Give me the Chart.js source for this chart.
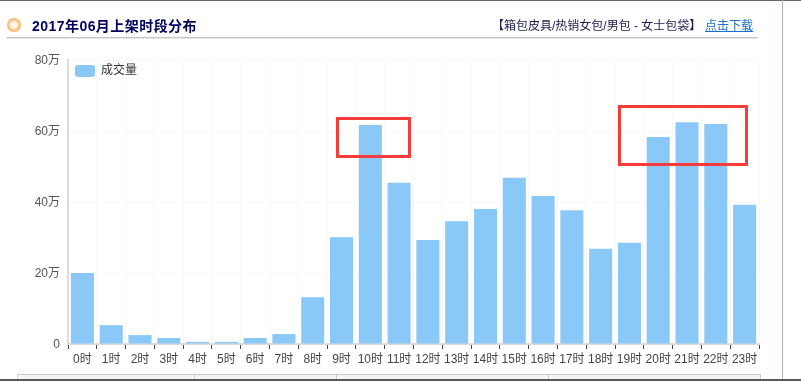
<!DOCTYPE html>
<html>
<head>
<meta charset="utf-8">
<title>2017年06月上架时段分布</title>
<script src="https://cdn.jsdelivr.net/npm/chart.js@4"></script>
<style>
    html, body { margin: 0; padding: 0; background: #fff; }
    body { width: 801px; height: 381px; overflow: hidden; position: relative; font-family: "Liberation Sans", "Noto Sans CJK SC", sans-serif; }
    #wrap { position: absolute; left: 0; top: 0; width: 801px; height: 381px; }
    .abs { position: absolute; white-space: nowrap; }
    .top-line { left: 0; top: 0; width: 801px; height: 1px; background: #666; }
    .bottom-line { left: 0; top: 379px; width: 801px; height: 2px; background: #5a5a5a; }
    .right-line { left: 782px; top: 0; width: 1px; height: 379px; background: #aab0c4; }
    .icon { left: 7px; top: 18px; width: 14px; height: 14px; border-radius: 50%; background: radial-gradient(circle, #fff 0, #fff3df 30%, #fbc680 55%, #f5a544 80%, #f8b86a 100%); }
    .title { left: 32px; top: 17px; font-size: 14px; font-weight: bold; line-height: 18px; letter-spacing: 0.45px; color: #00005e; }
    .rule { left: 7px; top: 37px; width: 751px; height: 2px; background: linear-gradient(#c4c4c4 50%, #e8e8e8 50%); }
    .cat { left: 492px; top: 18px; font-size: 12px; line-height: 17px; color: #1c1c50; }
    .link { left: 705px; top: 18px; font-size: 12px; line-height: 17px; color: #1a6fc4; text-decoration: underline; }
    .box { border: 3px solid #f63b3b; box-sizing: border-box; }
    .table-head { left: 17px; top: 374px; width: 744px; height: 5px; box-sizing: border-box; background: #f6f6f6; border: 1px solid #ccc; border-bottom: 0; }
    .table-cell { top: 374px; width: 1px; height: 5px; background: #ccc; }
</style>
</head>
<body>
<div id="wrap"><canvas id="timeChart" width="801" height="381"></canvas></div>
<div class="abs top-line"></div>
<div class="abs right-line"></div>
<div class="abs icon"></div>
<div class="abs title">2017年06月上架时段分布</div>
<div class="abs rule"></div>
<div class="abs cat">【箱包皮具/热销女包/男包&nbsp;- 女士包袋】</div>
<div class="abs link">点击下载</div>
<div class="abs box" style="left:336px;top:117px;width:75px;height:41px"></div>
<div class="abs box" style="left:618px;top:105px;width:130px;height:61px"></div>
<div class="abs table-head"></div>
<div class="abs table-cell" style="left:194px"></div>
<div class="abs table-cell" style="left:336px"></div>
<div class="abs table-cell" style="left:548px"></div>
<div class="abs bottom-line"></div>
<script>
// 数据
const hours = ['0时', '1时', '2时', '3时', '4时', '5时', '6时', '7时', '8时', '9时', '10时', '11时',
    '12时', '13时', '14时', '15时', '16时', '17时', '18时', '19时', '20时', '21时', '22时', '23时'];
const volume = [20, 5.3, 2.5, 1.7, 0.6, 0.6, 1.7, 2.8, 13.2, 30.1, 61.7, 45.4,
    29.3, 34.6, 38, 46.8, 41.7, 37.7, 26.8, 28.5, 58.3, 62.5, 62, 39.2];
const yTicks = ['0', '20万', '40万', '60万', '80万'];

const fontFamily = '"Liberation Sans", "Noto Sans CJK SC", sans-serif';

// chartArea 图例默认贴着画布顶部, 这里挪回绘图区内
const legendInArea = {
    id: 'legendInArea',
    afterLayout: function(chart) {
        chart.legend.top = chart.chartArea.top;
        chart.legend.left = chart.chartArea.left + 2;
    }
};

new Chart(document.getElementById('timeChart').getContext('2d'), {
    type: 'bar',
    plugins: [legendInArea],
    data: {
        labels: hours,
        datasets: [{
            label: '成交量',
            data: volume,
            backgroundColor: '#8ac8f8',
            categoryPercentage: 1,
            barPercentage: 0.8
        }]
    },
    options: {
        responsive: false,
        animation: false,
        layout: { padding: { left: 0, right: 42, top: 60, bottom: 0 } },
        plugins: {
            title: { display: false },
            tooltip: { enabled: false },
            legend: {
                position: 'chartArea',
                align: 'start',
                labels: {
                    boxWidth: 20,
                    boxHeight: 12,
                    useBorderRadius: true,
                    borderRadius: 3,
                    padding: 5,
                    color: '#333',
                    font: { family: fontFamily, size: 12 }
                }
            }
        },
        scales: {
            x: {
                grid: { color: '#f8f8f8', tickColor: '#444', tickLength: 5, offset: true },
                border: { color: '#ddd', width: 2 },
                ticks: {
                    color: '#444', maxRotation: 0, autoSkip: false, padding: 3,
                    font: { family: fontFamily, size: 12 }
                },
                afterFit: function(scale) { scale.height = 37; }
            },
            y: {
                min: 0,
                max: 80,
                grid: { color: '#f8f8f8', drawTicks: false },
                border: { color: '#ddd', width: 2 },
                ticks: {
                    stepSize: 20,
                    color: '#555',
                    padding: 8,
                    labelOffset: 1,
                    font: { family: fontFamily, size: 12 },
                    callback: function(value, index) { return yTicks[index]; }
                },
                afterFit: function(scale) { scale.width = 68; }
            }
        }
    }
});
</script>
</body>
</html>
